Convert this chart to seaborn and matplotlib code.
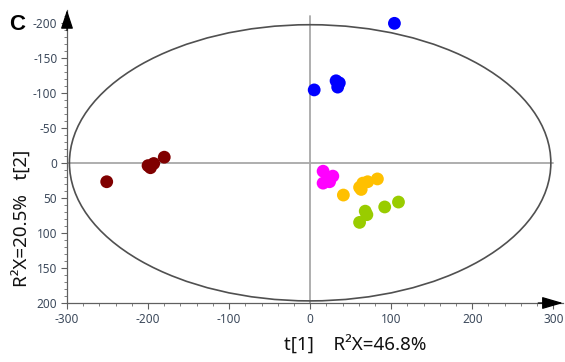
import matplotlib
matplotlib.use("Agg")
import matplotlib.pyplot as plt
import seaborn as sns
import pandas as pd
from matplotlib.patches import Ellipse
from matplotlib.ticker import MultipleLocator

# ---- data (t[1], t[2] scores per group) ----
blue_t1 = [104, 5, 32, 36, 34]
blue_t2 = [-199, -104, -117, -114, -108]
darkred_t1 = [-251, -200, -193, -197, -180]
darkred_t2 = [27, 4, 1, 7, -8]
magenta_t1 = [16, 28, 16, 24, 22]
magenta_t2 = [12, 19, 29, 27, 23]
orange_t1 = [41, 63, 65, 71, 83, 61]
orange_t2 = [46, 38, 29, 27, 23, 35]
green_t1 = [68, 70, 61, 92, 109]
green_t2 = [69, 74, 85, 63, 56]

groups = ["Blue", "DarkRed", "Magenta", "Orange", "Green"]
colors = ["#0000FF", "#800000", "#FF00FF", "#FFC000", "#99CC00"]
x_ticks = [-300, -200, -100, 0, 100, 200, 300]
y_ticks = [-200, -150, -100, -50, 0, 50, 100, 150, 200]
ellipse_t1, ellipse_t2 = 297, 197
x_label = "t[1]    R\u00b2X=46.8%"
y_label = "R\u00b2X=20.5%   t[2]"
panel = "C"

rows = []
for g, xs, ys in zip(groups,
                     [blue_t1, darkred_t1, magenta_t1, orange_t1, green_t1],
                     [blue_t2, darkred_t2, magenta_t2, orange_t2, green_t2]):
    for a, b in zip(xs, ys):
        rows.append({"t1": a, "t2": b, "group": g})
df = pd.DataFrame(rows)

sns.set_style("white")
plt.rcParams["font.family"] = ["Noto Sans", "DejaVu Sans"]
plt.rcParams["axes.unicode_minus"] = False

fig = plt.figure(figsize=(5.65, 3.62), dpi=100)
ax = fig.add_axes([67 / 565, 59 / 362, 496 / 565, 293 / 362])

# crosshair lines and ellipse
ax.plot([-300, 300], [0, 0], color="#a8a8a8", lw=1.3, zorder=1)
ax.plot([0, 0], [200, -209], color="#a8a8a8", lw=1.3, zorder=1)
ax.add_patch(Ellipse((0, 0), 2 * ellipse_t1, 2 * ellipse_t2, fill=False,
                     edgecolor="#505050", lw=1.2, zorder=2))

sns.scatterplot(data=df, x="t1", y="t2", hue="group", hue_order=groups,
                palette=colors, s=85, linewidth=0, legend=False, ax=ax, zorder=3)

ax.set_xlim(-300, 312)
ax.set_ylim(200, -218)
ax.set_xticks(x_ticks)
ax.set_yticks(y_ticks)
ax.xaxis.set_minor_locator(MultipleLocator(20))
ax.yaxis.set_minor_locator(MultipleLocator(10))
ax.tick_params(axis="both", which="major", direction="out", length=4, width=0.8,
               color="#606060", labelsize=8.5, labelcolor="#3d4a5c", pad=3)
ax.tick_params(axis="both", which="minor", direction="out", length=2.5, width=0.7,
               color="#808080")
ax.tick_params(axis="x", which="both", bottom=True)
ax.tick_params(axis="y", which="both", left=True)

for s in ["top", "right"]:
    ax.spines[s].set_visible(False)
for s in ["left", "bottom"]:
    ax.spines[s].set_color("#606060")
    ax.spines[s].set_linewidth(0.9)

# arrow heads
ax.annotate("", xy=(1.0, 0), xytext=(0.95, 0), xycoords="axes fraction",
            arrowprops=dict(arrowstyle="-|>,head_length=0.65,head_width=0.19",
                            color="black", lw=0.9,
                            mutation_scale=20, shrinkA=0, shrinkB=0))
ax.annotate("", xy=(0, 1.0), xytext=(0, 0.93), xycoords="axes fraction",
            arrowprops=dict(arrowstyle="-|>,head_length=0.58,head_width=0.19",
                            color="black", lw=0.9,
                            mutation_scale=20, shrinkA=0, shrinkB=0))

ax.set_xlabel("")
ax.set_ylabel("")
fig.text(355 / 565, 1 - 345 / 362, x_label, ha="center", va="center",
         fontsize=13.5, color="#111111")
fig.text(22 / 565, 1 - 218 / 362, y_label, ha="center", va="center",
         rotation=90, fontsize=13.5, color="#111111")
fig.text(17 / 565, 1 - 24 / 362, panel, ha="center", va="center",
         fontsize=16, fontweight="bold", color="black",
         family=["Liberation Sans", "DejaVu Sans"])

fig.savefig("out.png", dpi=100)
